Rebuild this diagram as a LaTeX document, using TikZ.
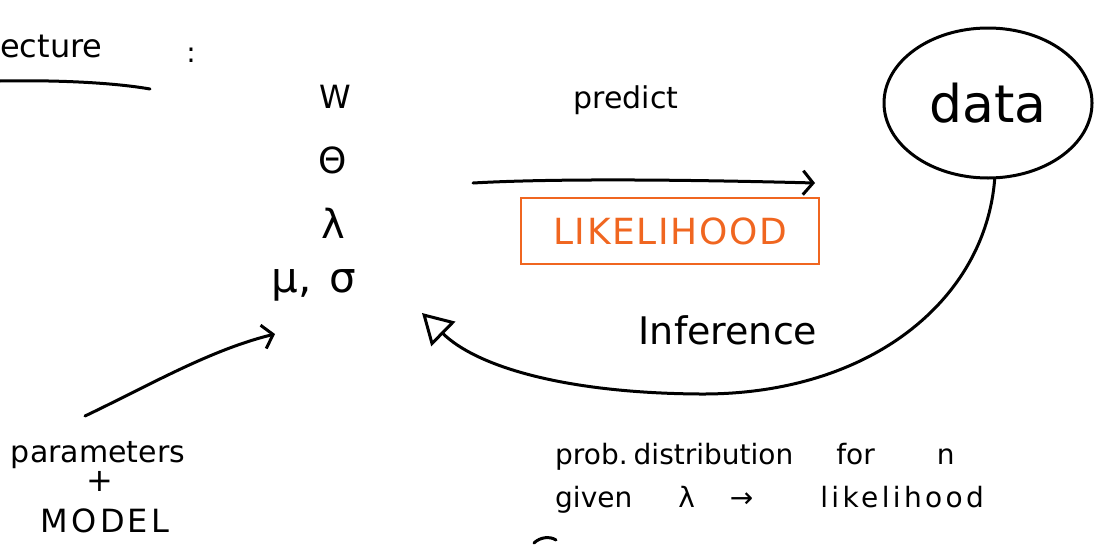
\documentclass[tikz,border=0pt]{standalone}
\usepackage{fontspec}
\setmainfont{DejaVu Sans}
\usetikzlibrary{arrows.meta,shapes.geometric}
\definecolor{inkorange}{RGB}{240,102,32}
\tikzset{
  ink/.style={line width=3pt, line cap=round, line join=round},
  hand/.style={inner sep=0pt, font=\fontsize{#1}{#1}\selectfont},
  hand/.default=26,
  barb/.style={-{Straight Barb[length=10pt,width=24pt,line width=3pt]}},
}
\begin{document}
\begin{tikzpicture}[x=1pt,y=-1pt]
\useasboundingbox (0,0) rectangle (1094,544);

% heading with its underline and colon
\node[hand=32, anchor=west] (title) at (0,46) {ecture};
\node[hand=28] (colon) at (191,55) {:};
\coordinate (ulA) at (0,81);
\coordinate (ulB) at (150,89);
\draw[ink] (ulA) .. controls (50,80) and (110,82) .. (ulB);

% parameter symbols
\node[hand=32] (w) at (335,97) {W};
\node[hand=36] (theta) at (333,160) {Θ};
\node[hand=40] (lambda) at (333,223) {λ};
\node[hand=42] (musigma) at (314,285) {μ,\hspace{18pt}σ};

% predict arrow and likelihood box
\node[hand=30] (predict) at (626,100) {predict};
\coordinate (pA) at (473,183);
\coordinate (pB) at (815,183);
\draw[ink, barb] (pA) .. controls (560,178) and (700,180) .. (pB);
\node[hand=36, draw=inkorange, text=inkorange, line width=2.8pt,
      minimum width=298pt, minimum height=66pt]
  (lik) at (670,231) {\addfontfeature{LetterSpace=4.5}LIKELIHOOD};

% data node
\node[ellipse, draw, ink, minimum width=208pt, minimum height=150pt]
  (data) at (988,103) {};
\node[hand=52] (datatext) at (988,103) {data};

% inference arrow back to the parameters
\node[hand=38] (inference) at (728,330) {Inference};
\coordinate (infTip) at (422,313);
\draw[ink, -{Triangle[open,length=30pt,width=34pt,line width=3pt]}]
  (data.275) .. controls (985,300) and (870,395) .. (700,394)
  .. controls (560,393) and (475,365) .. (infTip);

% parameters + model
\node[hand=30] (params) at (98,455) {parameters};
\node[hand=32] (plus) at (100,481) {+};
\node[hand=32] (model) at (105,521) {\addfontfeature{LetterSpace=10}MODEL};
\coordinate (mStart) at (85,416);
\coordinate (mA) at (275,334);
\draw[ink, barb] (mStart) .. controls (150,385) and (210,350) .. (mA);

% note on the likelihood
\node[hand=28, anchor=west] (note1) at (555,457)
  {prob.\hspace{6pt}distribution\hspace{43pt}for\hspace{62pt}n};
\node[hand=28, anchor=west] (note2) at (555,500)
  {given\hspace{46pt}λ\hspace{35pt}→\hspace{67pt}{\addfontfeature{LetterSpace=12}likelihood}};

% start of a stroke at the lower edge
\coordinate (sA) at (534,543);
\coordinate (sB) at (556,540);
\draw[ink] (sA) .. controls (540,537) and (550,536) .. (sB);
\end{tikzpicture}
\end{document}
